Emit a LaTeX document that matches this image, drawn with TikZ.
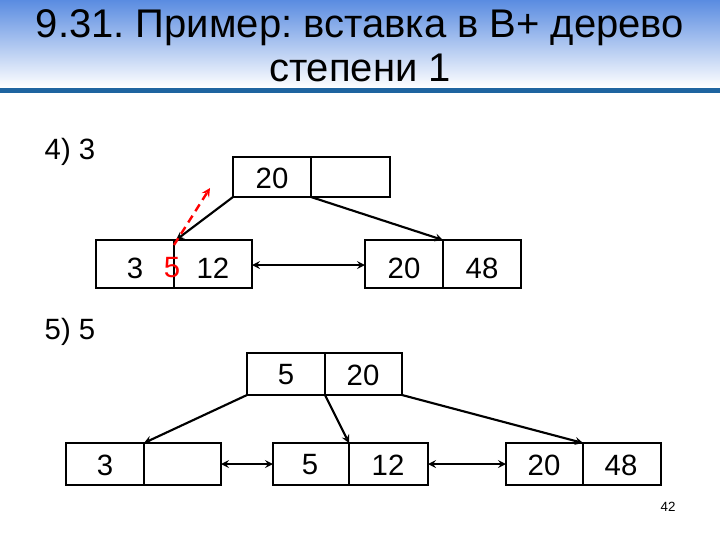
\documentclass[tikz,border=0pt]{standalone}
\usepackage{fontspec}
\setmainfont{Liberation Sans}
\frenchspacing
\definecolor{tblue}{RGB}{90,140,225}
\definecolor{lblue}{RGB}{30,100,160}
\begin{document}
\begin{tikzpicture}[x=0.75pt,y=-0.75pt,
  bx/.style={draw,line width=1.6pt},
  t/.style={font=\fontsize{22}{24}\selectfont},
  ar/.style={-stealth,line width=1.6pt},
  dar/.style={stealth-stealth,line width=1.6pt}]
\useasboundingbox (0,0) rectangle (720,540);
\shade[top color=tblue, bottom color=white] (0,0) rectangle (720,88);
\fill[lblue] (0,88) rectangle (720,93);
\node[font=\fontsize{30}{33}\selectfont,align=center] (title) at (360,46) {9.31. Пример: вставка в B+ дерево\\степени 1};
\node[t,anchor=west] (l4) at (40,152) {4) 3};
% top box 4
\draw[bx] (233,157) rectangle (390,197); \draw[bx] (311,157)--(311,197);
\coordinate (r1) at (233,197); \coordinate (r2) at (311,197);
\node[t] (n20) at (272,178) {20};
\draw[bx] (96,240) rectangle (252,288); \draw[bx] (174,240)--(174,288);
\node[t] (a3) at (135,268) {3}; \node[t,red] (a5) at (172,268) {5}; \node[t] (a12) at (213,268) {12};
\draw[bx] (365,240) rectangle (521,288); \draw[bx] (443,240)--(443,288);
\node[t] (b20) at (404,268) {20}; \node[t] (b48) at (482,268) {48};
\coordinate (L1) at (176,240); \coordinate (L2) at (443,240);
\coordinate (L1e) at (252,265); \coordinate (L2w) at (365,265);
\draw[ar] (r1)--(L1); \draw[ar] (r2)--(L2); \draw[dar] (L1e)--(L2w);
\coordinate (rs) at (174,245); \coordinate (re) at (210,188);
\draw[-stealth,red,dash pattern=on 6pt off 4pt,line width=1.8pt] (rs)--(re);
% 5)
\node[t,anchor=west] (l5) at (40,332) {5) 5};
\draw[bx] (247,353) rectangle (402,395); \draw[bx] (325,353)--(325,395);
\node[t] (c5) at (286,375) {5}; \node[t] (c20) at (363,375) {20};
\draw[bx] (66,443) rectangle (221,485); \draw[bx] (144,443)--(144,485);
\node[t] (d3) at (105,465) {3};
\draw[bx] (273,443) rectangle (428,485); \draw[bx] (349,443)--(349,485);
\node[t] (e5) at (310,465) {5}; \node[t] (e12) at (388,465) {12};
\draw[bx] (506,443) rectangle (661,485); \draw[bx] (583,443)--(583,485);
\node[t] (f20) at (544,465) {20}; \node[t] (f48) at (621,465) {48};
\coordinate (s1) at (247,395); \coordinate (s2) at (325,395); \coordinate (s3) at (402,395);
\coordinate (A) at (144,443); \coordinate (B) at (349,443); \coordinate (C) at (583,443);
\draw[ar] (s1)--(A); \draw[ar] (s2)--(B); \draw[ar] (s3)--(C);
\coordinate (Ae) at (221,464); \coordinate (Bw) at (273,464);
\coordinate (Be) at (428,464); \coordinate (Cw) at (506,464);
\draw[dar] (Ae)--(Bw); \draw[dar] (Be)--(Cw);
\node[font=\fontsize{10}{11}\selectfont] (pg) at (668,507) {42};
\end{tikzpicture}
\end{document}
